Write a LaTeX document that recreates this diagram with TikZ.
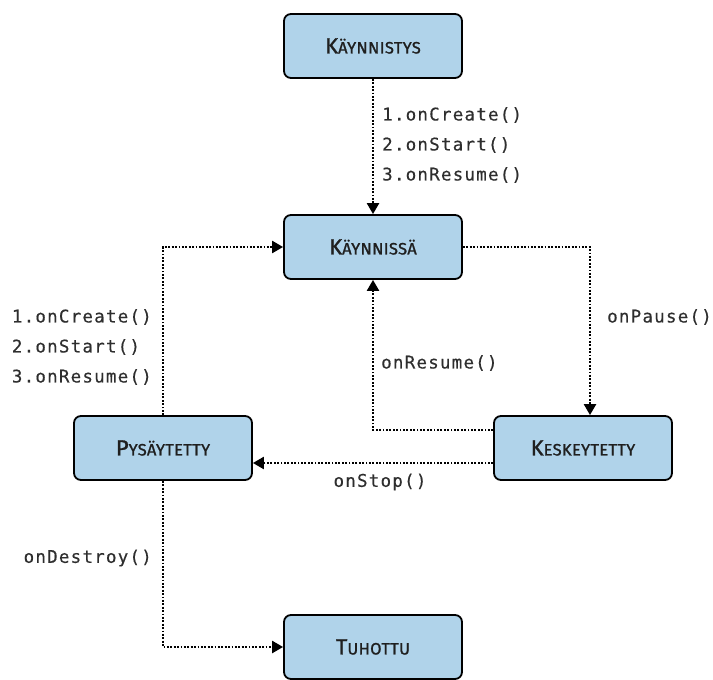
\documentclass[tikz,border=0pt]{standalone}
\usepackage{fontspec}
\setsansfont{Fira Sans}
\newfontfamily\labfont[LetterSpace=7,FakeBold=0.4]{DejaVu Sans Mono}
\newfontfamily\boxfont[LetterSpace=2,FakeBold=1.2]{Fira Sans}
\usetikzlibrary{arrows.meta}
\definecolor{boxblue}{HTML}{B0D3EA}
\definecolor{txtgray}{HTML}{2E2E2E}
\newcommand{\fakesc}[2]{{\fontsize{22}{24}\selectfont #1}{\fontsize{16.5}{18}\selectfont #2}}
\tikzset{
  state/.style={draw=black, line width=1.8pt, fill=boxblue, rounded corners=7pt,
    minimum width=178pt, minimum height=64pt, inner sep=0pt,
    font=\boxfont, text=black!88},
  trans/.style={line width=2.3pt, dash pattern=on 1.8pt off 1.6pt,
    -{Triangle[width=12pt,length=11pt]}},
  lab/.style={inner sep=0pt, font=\labfont\fontsize{17.5}{30}\selectfont, text=txtgray, align=left}
}
\begin{document}
\begin{tikzpicture}[x=1pt,y=-1pt]
\useasboundingbox (0,0) rectangle (713,680);
\node[state] (start) at (373,46) {\fakesc{K}{ÄYNNISTYS}};
\node[state] (run) at (373,247) {\fakesc{K}{ÄYNNISSÄ}};
\node[state] (pause) at (583,448) {\fakesc{K}{ESKEYTETTY}};
\node[state] (stop) at (163,448) {\fakesc{P}{YSÄYTETTY}};
\node[state] (dest) at (373,647) {\fakesc{T}{UHOTTU}};

\draw[trans] (start.south) -- (run.north);
\draw[trans] (run.east) -| ([xshift=7pt]pause.north);
\draw[trans] ([yshift=18pt]pause.west) -| (run.south);
\draw[trans] ([yshift=-15pt]pause.west) -- ([yshift=-15pt]stop.east);
\draw[trans] (stop.north) |- (run.west);
\draw[trans] (stop.south) |- (dest.west);

\node[lab, anchor=west] (l1) at (382,145) {1.onCreate()\\2.onStart()\\3.onResume()};
\node[lab, anchor=east] (l2) at (152,347) {1.onCreate()\\2.onStart()\\3.onResume()};
\node[lab, anchor=west] (l3) at (607,317) {onPause()};
\node[lab, anchor=west] (l4) at (381,363) {onResume()};
\node[lab] (l5) at (380,482) {onStop()};
\node[lab, anchor=east] (l6) at (152,558) {onDestroy()};
\end{tikzpicture}
\end{document}
